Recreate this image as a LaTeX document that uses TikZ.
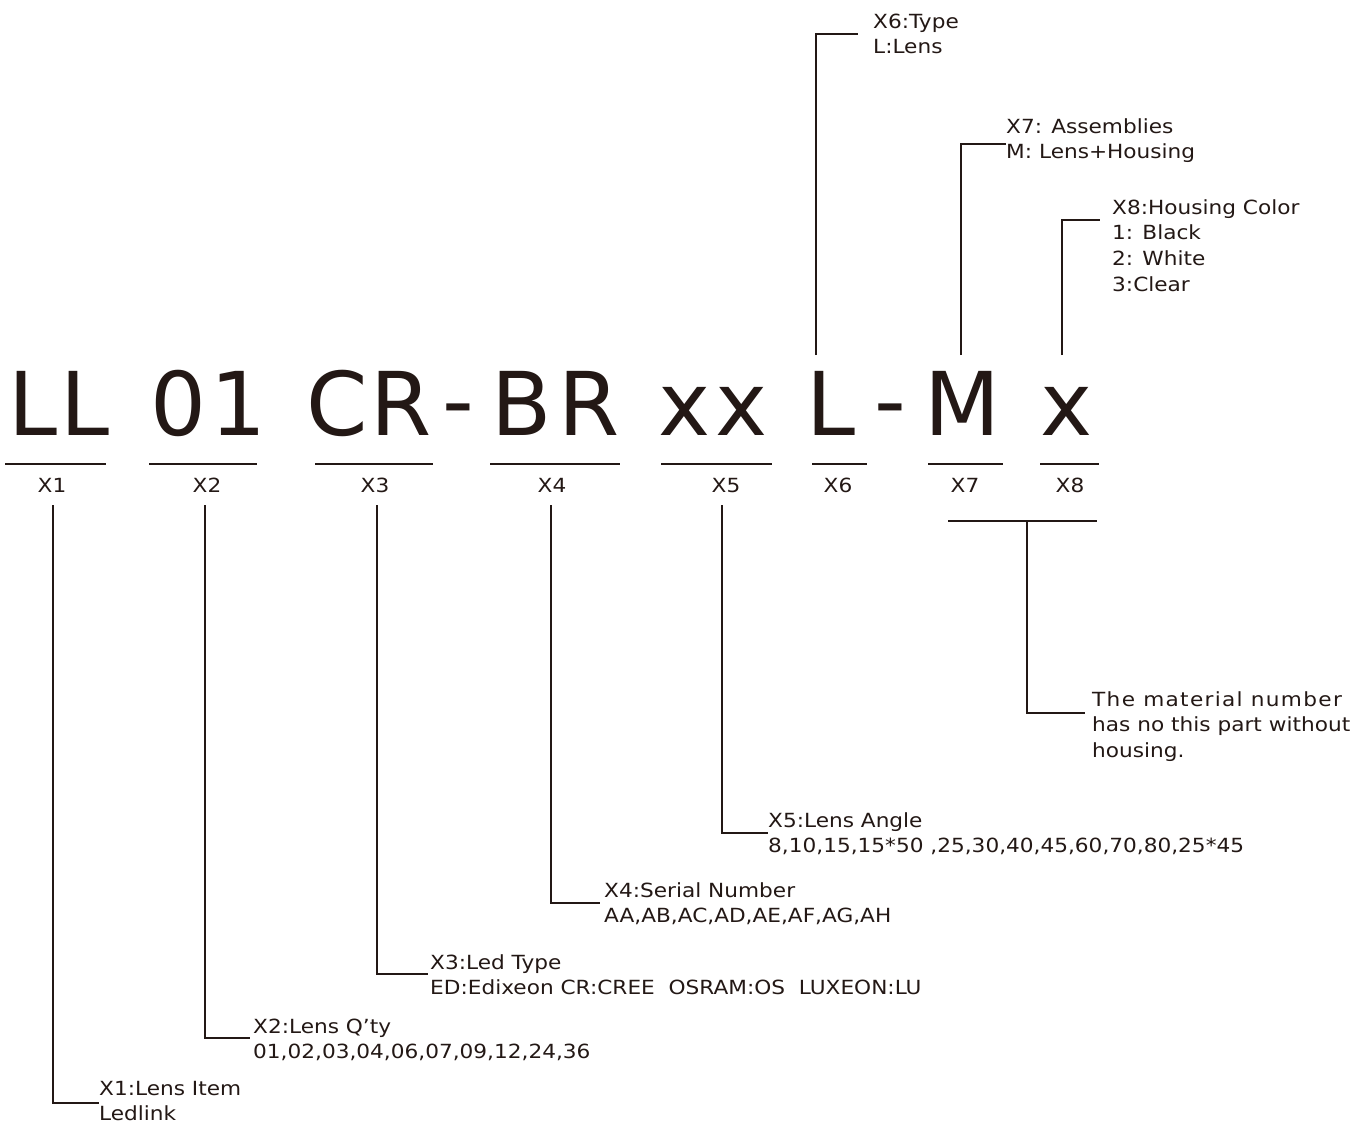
\documentclass[tikz,border=0pt]{standalone}
\usepackage{fontspec}
\setmainfont[FakeStretch=1.11]{DejaVu Sans}
\newfontfamily\bigfont{DejaVu Sans}
\newfontfamily\spacedfont[FakeStretch=1.11,LetterSpace=6.7]{DejaVu Sans}
\definecolor{ink}{HTML}{231815}
\begin{document}
\begin{tikzpicture}[x=1pt,y=-1pt,
  big/.style={font=\bigfont\fontsize{88}{100}\selectfont, inner sep=0pt, anchor=base, text=ink},
  lab/.style={font=\fontsize{19.5}{25.7}\selectfont, inner sep=0pt, anchor=base, text=ink},
  desc/.style={font=\fontsize{19.5}{25.7}\selectfont, inner sep=0pt, anchor=base west, text=ink},
  conn/.style={draw=ink, line width=1.8pt},
  uline/.style={draw=ink, line width=1.8pt}]
\useasboundingbox (0,0) rectangle (1366,1125);
% big code
\node[big] (g1) at (33.5,435) {L};
\node[big] (g2) at (85,435) {L};
\node[big] (g3) at (178,435) {0};
\node[big] (g4) at (238.5,435) {1};
\node[big] (g5) at (337.5,435) {C};
\node[big] (g6) at (401,435) {R};
\node[big] (g7) at (458,431) {-};
\node[big] (g8) at (522,435) {B};
\node[big] (g9) at (589,435) {R};
\node[big] (g10) at (685,435) {x};
\node[big] (g11) at (742,435) {x};
\node[big] (g12) at (831,435) {L};
\node[big] (g13) at (890,431) {-};
\node[big] (g14) at (962.5,435) {M};
\node[big] (g15) at (1066.5,435) {x};
% underlines
\draw[uline] (5,464) -- (106,464);
\draw[uline] (149,464) -- (257,464);
\draw[uline] (315,464) -- (433,464);
\draw[uline] (490,464) -- (620,464);
\draw[uline] (661,464) -- (772,464);
\draw[uline] (812,464) -- (867,464);
\draw[uline] (928,464) -- (1003,464);
\draw[uline] (1040,464) -- (1099,464);
% labels
\node[lab] (L1) at (52,492) {X1};
\node[lab] (L2) at (207,492) {X2};
\node[lab] (L3) at (375,492) {X3};
\node[lab] (L4) at (552,492) {X4};
\node[lab] (L5) at (726,492) {X5};
\node[lab] (L6) at (838,492) {X6};
\node[lab] (L7) at (965,492) {X7};
\node[lab] (L8) at (1070,492) {X8};
% descriptions below
\node[desc] (t1) at (99,1095) {\begin{tabular}[t]{@{}l@{}}X1:Lens Item\\Ledlink\end{tabular}};
\node[desc] (t2) at (253,1033) {\begin{tabular}[t]{@{}l@{}}X2:Lens Q’ty\\01,02,03,04,06,07,09,12,24,36\end{tabular}};
\node[desc] (t3) at (430,969) {\begin{tabular}[t]{@{}l@{}}X3:Led Type\\ED:Edixeon CR:CREE\ \ OSRAM:OS\ \ LUXEON:LU\end{tabular}};
\node[desc] (t4) at (604,897) {\begin{tabular}[t]{@{}l@{}}X4:Serial Number\\AA,AB,AC,AD,AE,AF,AG,AH\end{tabular}};
\node[desc] (t5) at (768,827) {\begin{tabular}[t]{@{}l@{}}X5:Lens Angle\\8,10,15,15*50 ,25,30,40,45,60,70,80,25*45\end{tabular}};
% descriptions above
\node[desc] (t6) at (873,28) {\begin{tabular}[t]{@{}l@{}}X6:Type\\L:Lens\end{tabular}};
\node[desc] (t7) at (1006,133) {\begin{tabular}[t]{@{}l@{}}X7: Assemblies\\M: Lens+Housing\end{tabular}};
\node[desc] (t8) at (1112,214) {\begin{tabular}[t]{@{}l@{}}X8:Housing Color\\1: Black\\2: White\\3:Clear\end{tabular}};
\node[desc] (t9) at (1092,706) {\begin{tabular}[t]{@{}l@{}}{\spacedfont The material number}\\has no this part without\\housing.\end{tabular}};
% connector start points
\coordinate (v1) at (53,505);
\coordinate (v2) at (205,505);
\coordinate (v3) at (377,505);
\coordinate (v4) at (551,505);
\coordinate (v5) at (722,505);
\coordinate (v6) at (816,355);
\coordinate (v7) at (961,355);
\coordinate (v8) at (1062,355);
\coordinate (v9) at (1027,521);
% connectors
\draw[conn] (v1) |- ([yshift=-8pt]t1.base west);
\draw[conn] (v2) |- ([xshift=-3pt,yshift=-5pt]t2.base west);
\draw[conn] (v3) |- ([xshift=-2pt,yshift=-5pt]t3.base west);
\draw[conn] (v4) |- ([xshift=-4pt,yshift=-6pt]t4.base west);
\draw[conn] (v5) |- ([yshift=-6pt]t5.base west);
\draw[conn] (v6) |- ([xshift=-15pt,yshift=-6pt]t6.base west);
\draw[conn] (v7) |- ([yshift=-11pt]t7.base west);
\draw[conn] (v8) |- ([xshift=-12pt,yshift=-6pt]t8.base west);
\draw[uline] (948,521) -- (1097,521);
\draw[conn] (v9) |- ([xshift=-7pt,yshift=-7pt]t9.base west);
\end{tikzpicture}
\end{document}
